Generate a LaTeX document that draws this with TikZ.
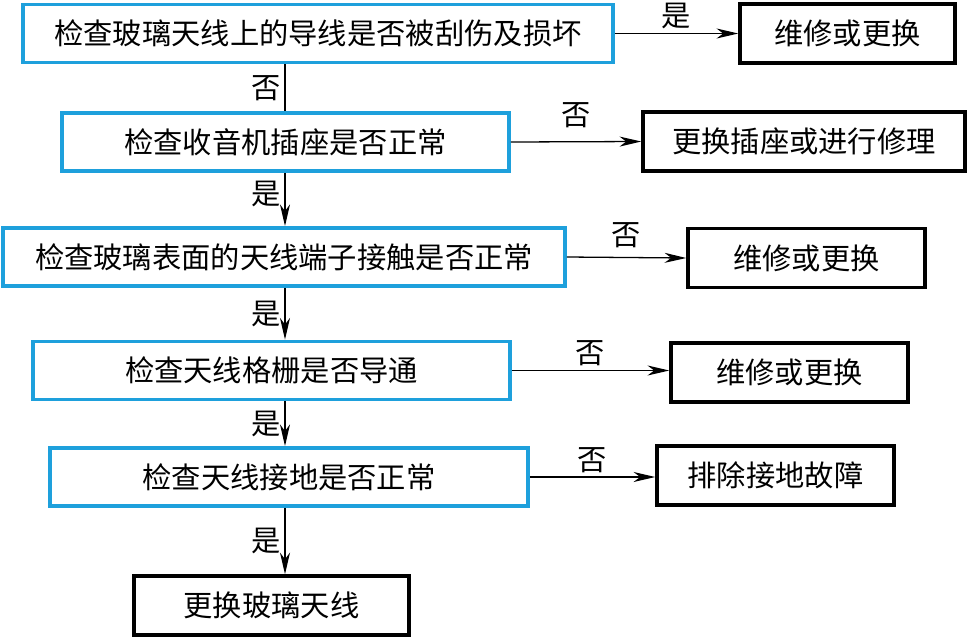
\documentclass[tikz,border=0pt]{standalone}
\usepackage{fontspec}
\setmainfont{Noto Sans CJK SC}
\usetikzlibrary{arrows.meta}
\definecolor{chkblue}{RGB}{30,160,220}

\begin{document}
\begin{tikzpicture}[x=0.03cm, y=-0.03cm, font=\fontsize{25}{30}\selectfont,
    chk/.style={draw=chkblue, line width=3pt, minimum height=1.75cm, inner sep=0pt},
    fix/.style={draw=black, line width=3pt, minimum height=1.77cm, inner sep=0pt},
    flow/.style={line width=1.1pt, -{Stealth[length=6.5mm, width=3mm, inset=2mm]}}]
      \useasboundingbox (0,0) rectangle (967,637);
      \coordinate (trunk) at (285,0);
      % checks
      \node[chk, minimum width=17.7cm] (c1) at (318,33.5) {检查玻璃天线上的导线是否被刮伤及损坏};
      \node[chk, minimum width=13.41cm] (c2) at (285.5,142) {检查收音机插座是否正常};
      \node[chk, minimum width=16.86cm] (c3) at (284,257) {检查玻璃表面的天线端子接触是否正常};
      \node[chk, minimum width=14.31cm] (c4) at (271.5,370.5) {检查天线格栅是否导通};
      \node[chk, minimum width=14.34cm] (c5) at (289,477) {检查天线接地是否正常};
      \node[fix, minimum width=8.25cm] (c6) at (271.5,605.5) {更换玻璃天线};
      % repairs
      \node[fix, minimum width=6.45cm] (r1) at (847.5,33.5) {维修或更换};
      \node[fix, minimum width=9.66cm] (r2) at (804,141.5) {更换插座或进行修理};
      \node[fix, minimum width=7.11cm] (r3) at (806.5,258) {维修或更换};
      \node[fix, minimum width=7.11cm] (r4) at (789.5,372.5) {维修或更换};
      \node[fix, minimum width=7.11cm] (r5) at (775.5,475.5) {排除接地故障};
      % down the trunk
      \draw[line width=1.1pt] (c1.south -| trunk) -- node[left] {否} (c2.north -| trunk);
      \draw[flow] (c2.south -| trunk) -- node[left, yshift=5pt] {是} (c3.north -| trunk);
      \draw[flow] (c3.south -| trunk) -- node[left] {是} (c4.north -| trunk);
      \draw[flow] (c4.south -| trunk) -- node[left] {是} (c5.north -| trunk);
      \draw[flow] (c5.south -| trunk) -- node[left] {是} (c6.north -| trunk);
      % side branches
      \draw[flow] (c1.east) -- node[above] {是} (r1.west);
      \draw[flow] (c2.east) -- node[above, yshift=8pt] {否} (r2.west);
      \draw[flow] (c3.east) -- node[above, yshift=4pt] {否} (r3.west);
      \draw[flow] (c4.east) -- node[above] {否} (c4.east -| r4.west);
      \draw[flow] (c5.east) -- node[above] {否} (c5.east -| r5.west);
    \end{tikzpicture}
\end{document}
